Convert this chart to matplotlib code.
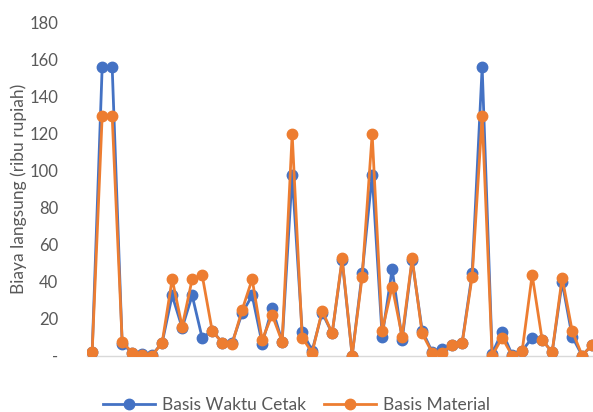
import numpy as np
import matplotlib.pyplot as plt

plt.rcParams['font.family'] = ['Lato', 'DejaVu Sans']

# biaya langsung per item (ribu rupiah)
waktu_cetak = [2, 156, 156, 6.5, 1.5, 1, 0.3, 7, 32.5, 15,
               32.5, 9.5, 13.5, 7, 7, 23, 32.5, 6.5, 25.6, 7.5,
               97.7, 13, 2.7, 23.2, 12, 51.5, 0, 44.5, 97.7, 10.3,
               46.7, 8.5, 51.5, 13.5, 2, 3.4, 5.8, 7, 44.5, 156,
               1, 13, 0.3, 2.5, 9.7, 8.5, 1.8, 39.7, 10.3, 0, 5.8]
material = [2, 129.5, 129.5, 7.6, 1.5, 0.4, 0, 7, 41.3, 15.7,
            41.3, 43.5, 13.4, 7, 6.3, 24.7, 41.3, 8.5, 22, 7.5,
            119.8, 9.7, 1.6, 24.3, 12, 52.5, 0, 42.7, 119.8, 13.4,
            37.3, 10.3, 52.5, 12, 1.6, 1.6, 5.8, 6.7, 42.7, 129.5,
            0, 9.7, 0, 2.5, 43.6, 8.5, 1.8, 42.2, 13.4, 0, 5.8]
y_ticks = [0, 20, 40, 60, 80, 100, 120, 140, 160, 180]
y_labels = ['-', '20', '40', '60', '80', '100', '120', '140', '160', '180']

BLUE = '#4472C4'
ORANGE = '#ED7D31'
GREY = '#595959'

x = np.arange(len(waktu_cetak))

fig = plt.figure(figsize=(5.93, 4.12), dpi=100)
ax = fig.add_axes([0.147, 0.137, 0.86, 0.808])

ax.plot(x, waktu_cetak, color=BLUE, lw=2, marker='o', ms=7.5,
        label='Basis Waktu Cetak', zorder=3)
ax.plot(x, material, color=ORANGE, lw=2, marker='o', ms=7.5,
        label='Basis Material', zorder=4)

ax.set_xlim(-0.5, len(x) - 0.5)
ax.set_ylim(0, 180)
ax.set_yticks(y_ticks)
ax.set_yticklabels(y_labels)
ax.set_xticks([])
ax.tick_params(axis='y', length=0, pad=21, labelsize=12, labelcolor=GREY)

for s in ['top', 'right', 'left']:
    ax.spines[s].set_visible(False)
ax.spines['bottom'].set_color('#D9D9D9')
ax.spines['bottom'].set_linewidth(1)

ax.set_ylabel('Biaya langsung (ribu rupiah)', fontsize=12.5, color=GREY, labelpad=1.5)
ax.patch.set_visible(False)

fig.legend(loc='lower center', bbox_to_anchor=(0.5, -0.04), ncol=2, frameon=False,
           fontsize=12.5, labelcolor=GREY, handlelength=3, columnspacing=1.0,
           handletextpad=0.4)

fig.savefig('out.png', dpi=100)
